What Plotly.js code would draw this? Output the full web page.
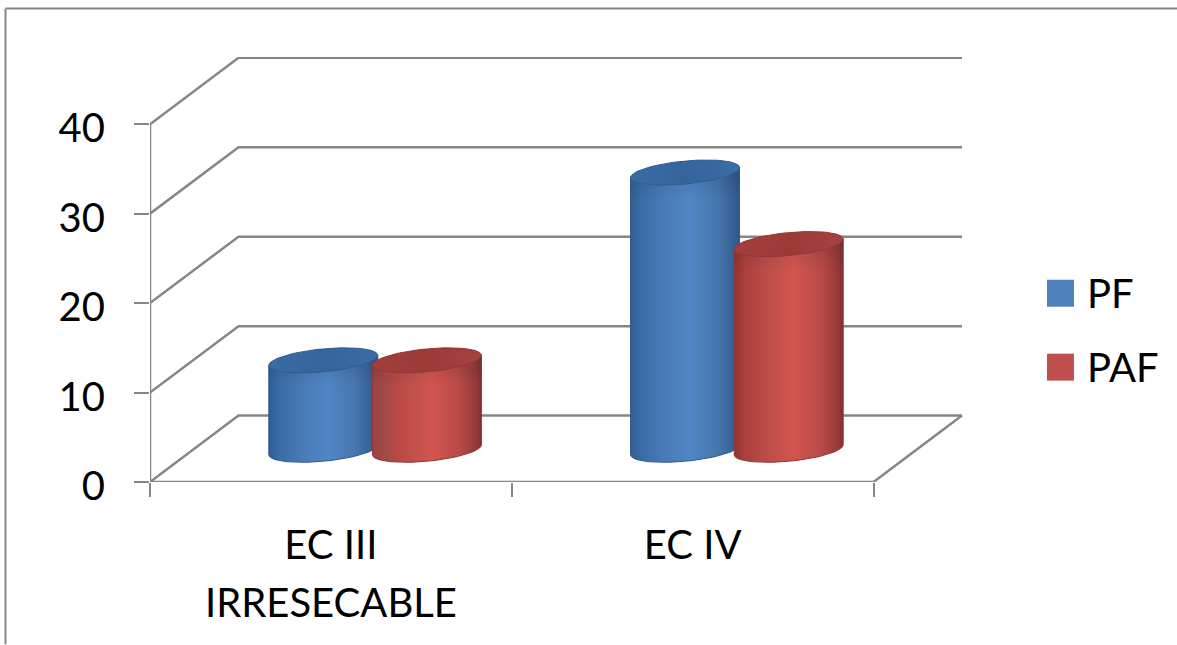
<!DOCTYPE html>
<html>
<head>
<meta charset="utf-8">
<script src="https://cdn.plot.ly/plotly-3.0.1.min.js"></script>
<style>html,body{margin:0;padding:0;background:#fff;overflow:hidden}#chart{width:1177px;height:645px}</style>
</head>
<body>
<div id="chart"></div>
<script>
// Chart values
const categories = ['EC III<br>IRRESECABLE', 'EC IV'];
const seriesNames = ['PF', 'PAF'];
const pfValues = [10, 31];
const pafValues = [10, 23];
const yTicks = [0, 10, 20, 30, 40];

// Plot frame, in pixels
const W = 1177, H = 645;
const LEFT = 150, RIGHT = 963, TOP = 57, FLOOR = 482.5;
const PX_PER_CAT = 361.75, PX_PER_VAL = 8.955;
const px = v => v / PX_PER_CAT;   // horizontal pixels to axis units
const py = v => v / PX_PER_VAL;   // vertical pixels to axis units
const paperX = v => (v - LEFT) / (RIGHT - LEFT);
const paperY = v => (FLOOR - v) / (FLOOR - TOP);

// Oblique projection of the depth axis
const DEPTH_X = px(88.5), DEPTH_Y = py(66.5);
const AXIS_END = categories.length;

// Cylinder shape
const RADIUS = px(54.5), MINOR = py(11.5), TILT = py(5);
const BAR_STEP = 0.2865;
const BASE_Y = DEPTH_Y / 2 - py(1);
const GRAY = '#868686';

const blueBody = [[0,'#2f5e92'],[0.1,'#3a6ca6'],[0.35,'#4a7dba'],[0.55,'#4f86c6'],[0.8,'#4676ac'],[0.95,'#345f92'],[1,'#2c5685']];
const redBody = [[0,'#8f3331'],[0.1,'#ab403d'],[0.35,'#c14f4b'],[0.55,'#d2554f'],[0.8,'#b84a47'],[0.95,'#963a38'],[1,'#842f2e']];
const redBodyOverlap = [[0,'#9a4341'],[0.17,'#a94c49'],[0.18,'#b4473f'],[0.35,'#c24f4a'],[0.55,'#d2554f'],[0.8,'#b84a47'],[0.95,'#963a38'],[1,'#842f2e']];
const blueCap = [[0,'#3a6ca4'],[0.5,'#34649a'],[1,'#3a6ea6']];
const redCap = [[0,'#a43e3c'],[0.5,'#9a3b38'],[1,'#a54240']];
const underCapShade = [[0,'rgba(30,30,50,0)'],[1,'rgba(30,30,50,0.16)']];

const STEPS = 72;
const angles = Array.from({length: STEPS + 1}, (_, i) => i / STEPS * 2 * Math.PI);

function ellipse(cx, cy) {
  return {
    x: angles.map(t => cx + RADIUS * Math.cos(t)),
    y: angles.map(t => cy + MINOR * Math.sin(t) + TILT * Math.cos(t))
  };
}

function cylinderTraces(cx, value, bodyScale, capScale, edge) {
  const cyBottom = BASE_Y, cyTop = BASE_Y + value;
  const front = angles.filter(t => t >= Math.PI);   // lower half, left to right
  const bodyX = [], bodyY = [];
  front.forEach(t => {
    bodyX.push(cx + RADIUS * Math.cos(t));
    bodyY.push(cyBottom + MINOR * Math.sin(t) + TILT * Math.cos(t));
  });
  bodyX.push(cx + RADIUS, cx - RADIUS, bodyX[0]);
  bodyY.push(cyTop + TILT, cyTop - TILT, bodyY[0]);
  const cap = ellipse(cx, cyTop);
  // soft shadow on the side wall just below the top face
  const shadeBottom = cyTop - MINOR - py(14);
  const shadeX = [cx - RADIUS, cx + RADIUS, cx + RADIUS, cx - RADIUS, cx - RADIUS];
  const shadeY = [shadeBottom, shadeBottom, cyTop + TILT, cyTop - TILT, shadeBottom];
  return [
    {type: 'scatter', mode: 'lines', x: bodyX, y: bodyY, fill: 'toself',
     fillgradient: {type: 'horizontal', colorscale: bodyScale, start: cx - RADIUS, stop: cx + RADIUS},
     line: {color: edge, width: 1}, hoverinfo: 'skip', showlegend: false},
    {type: 'scatter', mode: 'none', x: shadeX, y: shadeY, fill: 'toself',
     fillgradient: {type: 'vertical', colorscale: underCapShade, start: shadeBottom, stop: cyTop},
     hoverinfo: 'skip', showlegend: false},
    {type: 'scatter', mode: 'lines', x: cap.x, y: cap.y, fill: 'toself',
     fillgradient: {type: 'horizontal', colorscale: capScale, start: cx - RADIUS, stop: cx + RADIUS},
     line: {color: edge, width: 1}, hoverinfo: 'skip', showlegend: false}
  ];
}

// Back wall, side wall and floor lines
const gridX = [], gridY = [];
yTicks.forEach(v => {
  gridX.push(0, DEPTH_X, AXIS_END + DEPTH_X, null);
  gridY.push(v, v + DEPTH_Y, v + DEPTH_Y, null);
});
gridX.push(AXIS_END, AXIS_END + DEPTH_X, null, 0, AXIS_END, null, 0, 0);
gridY.push(0, DEPTH_Y, null, 0, 0, null, 0, yTicks[yTicks.length - 1]);

const traces = [{
  type: 'scatter', mode: 'lines', x: gridX, y: gridY,
  line: {color: GRAY, width: 2.5}, hoverinfo: 'skip', showlegend: false, cliponaxis: false
}];

categories.forEach((_, i) => {
  const center = i + 0.5;
  traces.push(...cylinderTraces(center - BAR_STEP / 2 + DEPTH_X / 2, pfValues[i], blueBody, blueCap, '#2f5d8f'));
  traces.push(...cylinderTraces(center + BAR_STEP / 2 + DEPTH_X / 2, pafValues[i],
    i === 0 ? redBodyOverlap : redBody, redCap, '#923735'));
});

const FONT = 'Lato, "Open Sans", sans-serif';
const LABEL_SIZE = 40;
const legendRows = [
  {name: seriesNames[0], color: '#4f81bd', top: 280},
  {name: seriesNames[1], color: '#c0504d', top: 354}
];

// Category labels wrap onto a second row set with wider leading than a tick label allows
const labelRows = categories.map(c => c.split('<br>'));
const secondRowLabels = [];
labelRows.forEach((rows, i) => {
  if (rows[1]) {
    secondRowLabels.push({
      xref: 'x', yref: 'paper', x: i + 0.5, y: paperY(603),
      xanchor: 'center', yanchor: 'middle', showarrow: false, text: rows[1],
      font: {family: FONT, size: LABEL_SIZE, color: '#000'}
    });
  }
});

const layout = {
  width: W, height: H,
  margin: {l: LEFT, r: W - RIGHT, t: TOP, b: H - FLOOR, pad: 0},
  paper_bgcolor: '#fff', plot_bgcolor: '#fff',
  showlegend: false,
  font: {family: FONT, color: '#000', size: LABEL_SIZE},
  xaxis: {
    range: [0, (RIGHT - LEFT) / PX_PER_CAT], showgrid: false, zeroline: false, showline: false,
    tickmode: 'array', tickvals: categories.map((_, i) => i + 0.5), ticktext: labelRows.map(r => r[0]),
    ticks: '', ticklabelstandoff: 36, tickangle: 0,
    tickfont: {family: FONT, size: LABEL_SIZE, color: '#000'},
    minor: {tickmode: 'array', tickvals: [0, 1, 2], ticks: 'outside', ticklen: 14, tickwidth: 2, tickcolor: GRAY, showgrid: false}
  },
  yaxis: {
    range: [0, (FLOOR - TOP) / PX_PER_VAL], showgrid: false, zeroline: false, showline: false,
    tickmode: 'array', tickvals: yTicks, ticktext: yTicks.map(String),
    ticks: 'outside', ticklen: 15, tickwidth: 2, tickcolor: GRAY, ticklabelstandoff: 21, ticklabelshift: 4,
    tickfont: {family: FONT, size: LABEL_SIZE, color: '#000'}
  },
  shapes: [
    {type: 'line', xref: 'paper', yref: 'paper', x0: paperX(5.5), x1: paperX(5.5), y0: paperY(8.5), y1: paperY(H), line: {color: GRAY, width: 2}},
    {type: 'line', xref: 'paper', yref: 'paper', x0: paperX(5.5), x1: paperX(W), y0: paperY(8.5), y1: paperY(8.5), line: {color: GRAY, width: 2}},
    ...legendRows.map(r => ({
      type: 'rect', xref: 'paper', yref: 'paper',
      x0: paperX(1047), x1: paperX(1074), y0: paperY(r.top), y1: paperY(r.top + 27),
      fillcolor: r.color, line: {width: 0}
    }))
  ],
  annotations: legendRows.map(r => ({
    xref: 'paper', yref: 'paper', x: paperX(1085), y: paperY(r.top + 13.5),
    xanchor: 'left', yanchor: 'middle', showarrow: false, text: r.name,
    font: {family: FONT, size: LABEL_SIZE, color: '#000'}
  })).concat(secondRowLabels)
};

Plotly.newPlot('chart', traces, layout, {displayModeBar: false, staticPlot: true});
</script>
</body>
</html>
